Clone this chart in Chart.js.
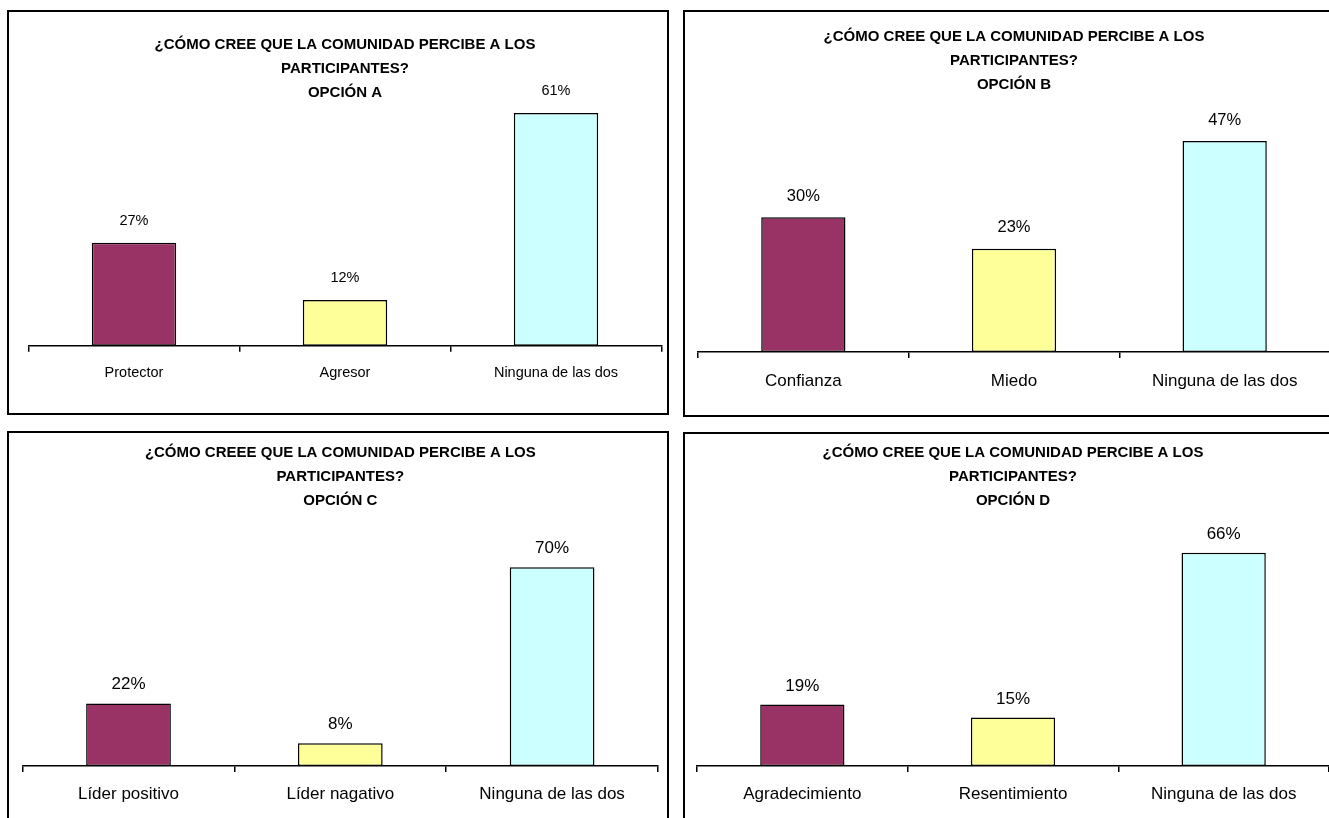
<!DOCTYPE html>
<html>
<head>
<meta charset="utf-8">
<script src="https://cdn.jsdelivr.net/npm/chart.js@4.4.0/dist/chart.umd.min.js"></script>
<style>
  body { margin: 0; background: #fff; }
  .box { position: absolute; box-sizing: border-box; border: 2px solid #000; background: #fff; }
  canvas { position: absolute; left: 0; top: 0; }
</style>
</head>
<body>
<div class="box" id="boxA" style="left:7px;top:10px;width:662px;height:405px;"><canvas id="chartA" width="658" height="401"></canvas></div>
<div class="box" id="boxB" style="left:683px;top:10px;width:652px;height:407px;"><canvas id="chartB" width="648" height="403"></canvas></div>
<div class="box" id="boxC" style="left:7px;top:431px;width:662px;height:392px;"><canvas id="chartC" width="658" height="385"></canvas></div>
<div class="box" id="boxD" style="left:683px;top:432px;width:652px;height:392px;"><canvas id="chartD" width="648" height="384"></canvas></div>
<script>
// datos de cada grafico
var titleLine1A = '¿CÓMO CREE QUE LA COMUNIDAD PERCIBE A LOS';
var titleLine1C = '¿CÓMO CREEE QUE LA COMUNIDAD PERCIBE A LOS';
var titleLine2 = 'PARTICIPANTES?';

var categoriasA = ['Protector', 'Agresor', 'Ninguna de las dos'];
var valoresA = [27, 12, 61];

var categoriasB = ['Confianza', 'Miedo', 'Ninguna de las dos'];
var valoresB = [30, 23, 47];

var categoriasC = ['Líder positivo', 'Líder nagativo', 'Ninguna de las dos'];
var valoresC = [22, 8, 70];

var categoriasD = ['Agradecimiento', 'Resentimiento', 'Ninguna de las dos'];
var valoresD = [19, 15, 66];

var colores = ['#993366', '#FFFF99', '#CCFFFF'];

Chart.defaults.font.family = "'Liberation Sans', Arial, sans-serif";
Chart.defaults.color = '#000';

// etiquetas de porcentaje encima de cada barra
var etiquetas = {
    id: 'etiquetas',
    afterDatasetsDraw: function(chart, args, opts) {
        var ctx = chart.ctx;
        var meta = chart.getDatasetMeta(0);
        var data = chart.data.datasets[0].data;
        ctx.save();
        ctx.fillStyle = '#000';
        ctx.font = opts.size + "px 'Liberation Sans', Arial, sans-serif";
        ctx.textAlign = 'center';
        ctx.textBaseline = 'middle';
        meta.data.forEach(function(bar, i) {
            ctx.fillText(data[i] + '%', bar.x, bar.y - opts.offset);
        });
        ctx.restore();
    }
};

function grafico(id, titulo, categorias, valores, p) {
    return new Chart(document.getElementById(id), {
        type: 'bar',
        data: {
            labels: categorias,
            datasets: [{
                data: valores,
                backgroundColor: colores,
                borderColor: '#000',
                borderWidth: 1.5,
                borderSkipped: false,
                barPercentage: 0.4,
                categoryPercentage: 1
            }]
        },
        options: {
            responsive: false,
            animation: false,
            devicePixelRatio: 1,
            layout: { padding: { left: p.left, right: p.right, top: 0, bottom: p.bottom } },
            plugins: {
                legend: { display: false },
                tooltip: { enabled: false },
                title: {
                    display: true,
                    text: titulo,
                    color: '#000',
                    font: { size: 15, weight: 'bold', lineHeight: 1.6 },
                    padding: { top: p.titleTop, bottom: 0 }
                },
                etiquetas: { size: p.dataSize, offset: p.dataOffset }
            },
            scales: {
                x: {
                    grid: { offset: true, drawOnChartArea: false, drawTicks: true, tickLength: 6, color: '#000', lineWidth: 1.5 },
                    border: { display: true, color: '#000', width: 1.5 },
                    ticks: { font: { size: p.labelSize }, color: '#000', padding: p.tickPad, maxRotation: 0 }
                },
                y: {
                    display: false,
                    min: 0,
                    max: p.max
                }
            }
        },
        plugins: [etiquetas]
    });
}

grafico('chartA', [titleLine1A, titleLine2, 'OPCIÓN A'], categoriasA, valoresA,
    { left: 19.5, right: 5.5, bottom: 19, titleTop: 21, max: 63.1, labelSize: 14.5, tickPad: 12.4, dataSize: 14.5, dataOffset: 22 });
grafico('chartB', [titleLine1A, titleLine2, 'OPCIÓN B'], categoriasB, valoresB,
    { left: 13, right: 3, bottom: 11, titleTop: 13, max: 56.8, labelSize: 17, tickPad: 12.8, dataSize: 16.5, dataOffset: 21 });
grafico('chartC', [titleLine1C, titleLine2, 'OPCIÓN C'], categoriasC, valoresC,
    { left: 13.6, right: 9, bottom: 2, titleTop: 8, max: 89.1, labelSize: 17, tickPad: 11.8, dataSize: 17, dataOffset: 19 });
grafico('chartD', [titleLine1A, titleLine2, 'OPCIÓN D'], categoriasD, valoresD,
    { left: 12, right: 4, bottom: 2, titleTop: 7, max: 78.3, labelSize: 17, tickPad: 11.8, dataSize: 17, dataOffset: 18 });
</script>
</body>
</html>
